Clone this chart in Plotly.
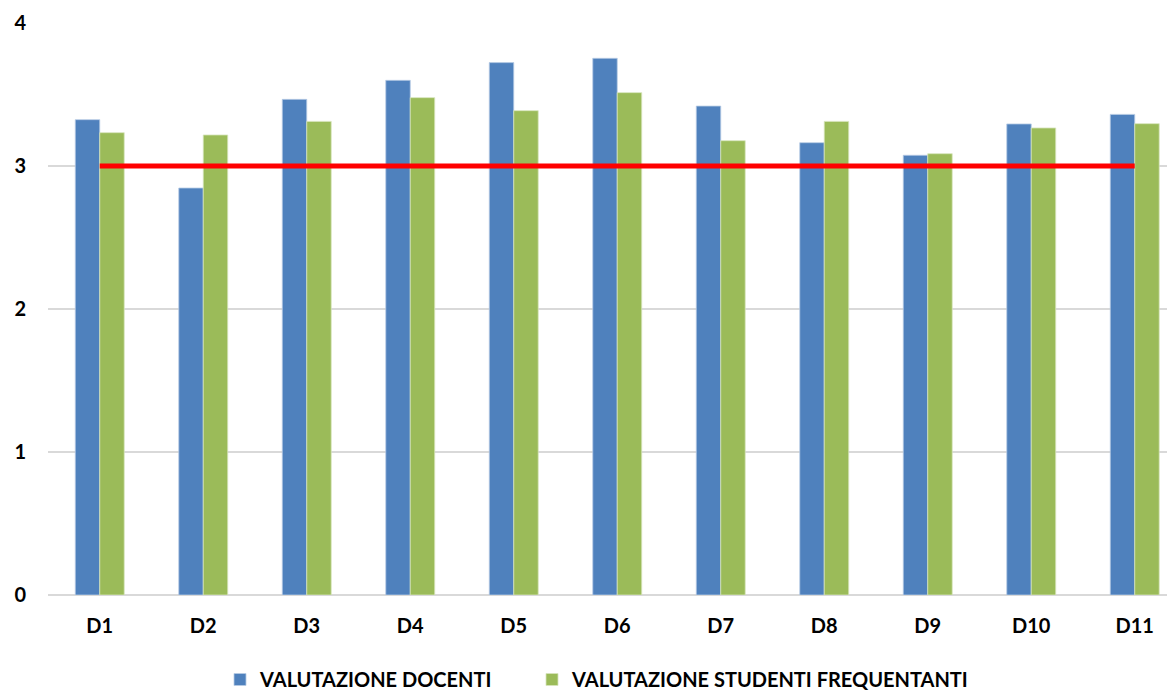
import plotly.graph_objects as go

categories = ["D1", "D2", "D3", "D4", "D5", "D6", "D7", "D8", "D9", "D10", "D11"]
docenti = [3.324, 2.846, 3.466, 3.599, 3.723, 3.753, 3.419, 3.163, 3.075, 3.294, 3.361]
studenti = [3.233, 3.217, 3.312, 3.478, 3.387, 3.513, 3.177, 3.312, 3.086, 3.266, 3.296]
soglia = [3] * len(categories)
y_ticks = [0, 1, 2, 3, 4]

fig = go.Figure()
fig.add_trace(go.Bar(
    x=categories, y=docenti, name="VALUTAZIONE DOCENTI", legend="legend",
    marker=dict(color="#4F81BD", line=dict(color="#B8CCE4", width=0.8)),
))
fig.add_trace(go.Bar(
    x=categories, y=studenti, name="VALUTAZIONE STUDENTI FREQUENTANTI", legend="legend2",
    marker=dict(color="#9BBB59", line=dict(color="#D7E4BD", width=0.8)),
))
fig.add_trace(go.Scatter(
    x=categories, y=soglia, mode="lines", showlegend=False,
    line=dict(color="#FF0000", width=5), hoverinfo="skip",
))

font_family = "Lato, 'Open Sans', sans-serif"
legend_font = dict(size=20, family=font_family, color="black", weight="bold")
W, H = 1167, 691
fig.update_layout(
    width=W, height=H,
    margin=dict(l=40, r=0, t=15, b=104),
    paper_bgcolor="white", plot_bgcolor="white",
    barmode="group", bargap=0.527, bargroupgap=0,
    font=dict(family=font_family, color="black"),
    legend=dict(
        orientation="h", x=212 / W, xanchor="left", xref="container",
        y=0.0, yanchor="bottom", yref="container",
        font=legend_font, itemclick=False, itemdoubleclick=False,
    ),
    legend2=dict(
        orientation="h", x=524 / W, xanchor="left", xref="container",
        y=0.0, yanchor="bottom", yref="container",
        font=legend_font, itemclick=False, itemdoubleclick=False,
    ),
    xaxis=dict(
        type="category", range=[-0.5, 10.389],
        showgrid=False, zeroline=False, showline=False, ticks="",
        tickfont=dict(size=20, family=font_family, color="black", weight="bold"),
        ticklabelstandoff=17,
    ),
    yaxis=dict(
        range=[0, 4], tickvals=y_ticks, ticktext=[str(v) for v in y_ticks],
        showgrid=True, gridcolor="#D9D9D9", gridwidth=1.5,
        zeroline=True, zerolinecolor="#D9D9D9", zerolinewidth=1.5,
        showline=False, ticks="",
        tickfont=dict(size=20, family=font_family, color="black", weight="bold"),
        ticklabelstandoff=21,
    ),
)

fig.write_html("out.html")
